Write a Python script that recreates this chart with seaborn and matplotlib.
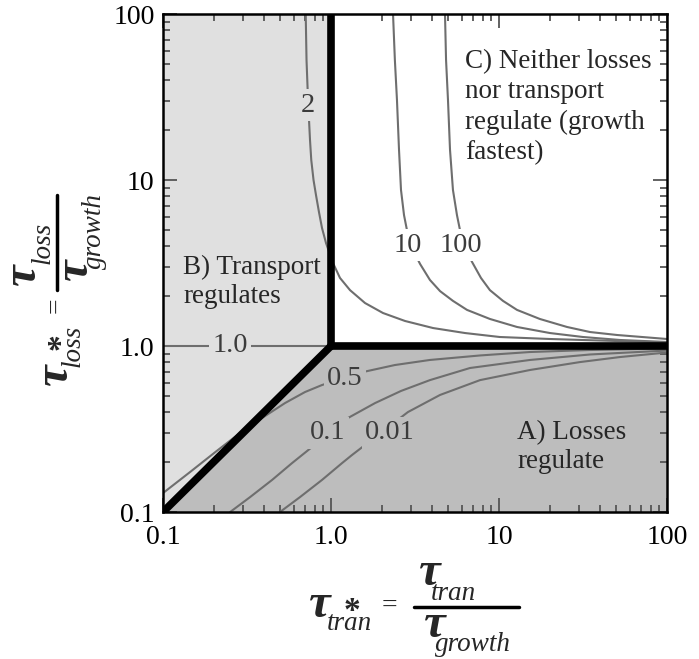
import matplotlib
matplotlib.use('Agg')
import matplotlib.pyplot as plt
import pandas as pd
import seaborn as sns

# axis ticks
tick_values = [0.1, 1.0, 10, 100]
tick_labels = ['0.1', '1.0', '10', '100']

# regime boundaries (thick black lines)
diag_x = [0.1, 1.0]
diag_y = [0.1, 1.0]
vert_x = [1.0, 1.0]
vert_y = [1.0, 100]
horiz_x = [1.0, 100]
horiz_y = [1.0, 1.0]

# contour curves
curve_2_x = [0.707, 0.715, 0.730, 0.750, 0.763, 0.787, 0.814, 0.848, 0.884, 0.934,
             1.028, 1.131, 1.298, 1.594, 2.04, 2.757, 4.05, 6.28, 10.1, 20.1, 39.9, 100]
curve_2_y = [100, 52.8, 30.3, 17.4, 13.2, 10, 8.12, 6.41, 5.14, 4.17,
             3.16, 2.57, 2.17, 1.815, 1.58, 1.415, 1.283, 1.197, 1.133, 1.102, 1.079, 1.05]

curve_10_x = [2.34, 2.40, 2.47, 2.54, 2.61, 2.72, 2.87, 3.12, 3.39, 3.88,
              4.46, 5.32, 6.45, 8.83, 12.8, 20.1, 31.6, 52.5, 100]
curve_10_y = [100, 52.8, 30.3, 15.2, 8.71, 6.15, 4.66, 3.68, 3.12, 2.50,
              2.14, 1.87, 1.65, 1.455, 1.302, 1.197, 1.133, 1.087, 1.057]

curve_100_x = [4.77, 4.84, 4.97, 5.11, 5.32, 5.62, 5.94, 6.45, 6.91, 7.81,
               8.83, 10.56, 12.8, 17.5, 25.4, 34.8, 50.4, 100]
curve_100_y = [100, 52.8, 30.3, 15.2, 8.71, 6.15, 4.66, 3.68, 3.21, 2.57,
               2.17, 1.87, 1.65, 1.455, 1.302, 1.214, 1.165, 1.102]

curve_1_x = [0.1, 1.0]
curve_1_y = [1.0, 1.0]

curve_05_x = [0.1, 0.1448, 0.212, 0.287, 0.388, 0.532, 0.700, 0.884, 1.55,
              2.40, 3.88, 7.71, 15.3, 34.8, 100]
curve_05_y = [0.130, 0.174, 0.236, 0.299, 0.368, 0.453, 0.528, 0.582, 0.697,
              0.768, 0.824, 0.877, 0.920, 0.946, 0.966]

curve_01_x = [0.251, 0.330, 0.446, 0.586, 0.77, 1.26, 1.828, 2.61, 3.88,
              6.72, 15.3, 34.8, 100]
curve_01_y = [0.1, 0.123, 0.156, 0.197, 0.246, 0.368, 0.453, 0.536, 0.623,
              0.737, 0.824, 0.889, 0.939]

curve_001_x = [0.497, 0.654, 0.884, 1.163, 1.334, 2.87, 4.455, 7.71, 15.3,
               30.3, 52.5, 100]
curve_001_y = [0.1, 0.123, 0.156, 0.197, 0.2205, 0.40, 0.507, 0.623, 0.717,
               0.80, 0.858, 0.914]

curves = {
    '2': (curve_2_x, curve_2_y),
    '10': (curve_10_x, curve_10_y),
    '100': (curve_100_x, curve_100_y),
    '1.0': (curve_1_x, curve_1_y),
    '0.5': (curve_05_x, curve_05_y),
    '0.1': (curve_01_x, curve_01_y),
    '0.01': (curve_001_x, curve_001_y),
}

B_COL = '#e0e0e0'
A_COL = '#bdbdbd'
LINE_COL = '#6e6e6e'
LBL_COL = '#3c3c3c'

sns.set_theme(style='ticks')
plt.rcParams['font.family'] = ['Liberation Serif', 'DejaVu Serif']

fig = plt.figure(figsize=(6.99, 6.59), dpi=100)
ax = fig.add_axes([163 / 699, 1 - 512 / 659, 504 / 699, 498 / 659])
ax.set_xscale('log')
ax.set_yscale('log')
ax.set_xlim(0.1, 100)
ax.set_ylim(0.1, 100)

# shaded regimes
lower_x = diag_x + horiz_x[1:]
lower_y = diag_y + horiz_y[1:]
ax.fill_between(lower_x, 0.1, lower_y, color=A_COL, lw=0, zorder=0)
ax.fill_between(diag_x, diag_y, 100, color=B_COL, lw=0, zorder=0)

# contour lines
df = pd.concat([pd.DataFrame({'x': xs, 'y': ys, 'curve': name})
                for name, (xs, ys) in curves.items()], ignore_index=True)
sns.lineplot(data=df, x='x', y='y', units='curve', estimator=None, sort=False,
             color=LINE_COL, lw=1.5, ax=ax, zorder=2, legend=False)

# regime boundaries
for bx, by in [(diag_x, diag_y), (vert_x, vert_y), (horiz_x, horiz_y)]:
    ax.plot(bx, by, color='black', lw=5.5, solid_capstyle='round', zorder=3)

# contour labels
label_pos = {
    '2': (0.73, 28.3, B_COL),
    '10': (2.87, 4.05, 'white'),
    '100': (5.94, 4.05, 'white'),
    '1.0': (0.25, 1.0, B_COL),
    '0.5': (1.21, 0.64, A_COL),
    '0.1': (0.96, 0.30, A_COL),
    '0.01': (2.24, 0.30, A_COL),
}
for name, (lx, ly, bg) in label_pos.items():
    ax.text(lx, ly, name, ha='center', va='center', fontsize=20.5, color=LBL_COL,
            zorder=4, bbox=dict(boxstyle='square,pad=0.12', fc=bg, ec='none'))

# regime annotations
ax.text(6.28, 61.5, 'C) Neither losses\nnor transport\nregulate (growth\nfastest)',
        ha='left', va='top', fontsize=19.5, linespacing=1.27, zorder=4)
ax.text(0.1315, 3.53, 'B) Transport\nregulates', ha='left', va='top',
        fontsize=19.5, linespacing=1.2, zorder=4)
ax.text(12.8, 0.358, 'A) Losses\nregulate', ha='left', va='top',
        fontsize=19.5, linespacing=1.2, zorder=4)

# axes styling
ax.set_xticks(tick_values)
ax.set_xticklabels(tick_labels)
ax.set_yticks(tick_values)
ax.set_yticklabels(tick_labels)
ax.tick_params(which='both', direction='in', top=True, right=True,
               color='#555555', labelsize=20, labelcolor='black')
ax.tick_params(which='major', length=10, width=1.3)
ax.tick_params(which='minor', length=5, width=1.3)
ax.tick_params(axis='x', which='major', pad=9.5)
ax.tick_params(axis='y', which='major', pad=6)
for s in ax.spines.values():
    s.set_linewidth(1.8)
    s.set_color('black')
    s.set_zorder(5)
ax.set_xlabel('')
ax.set_ylabel('')

tau = dict(fontsize=35, fontweight='bold', fontstyle='italic')
sub = dict(fontsize=19.5, fontstyle='italic')


def axis_label(ox, oy, rotated, bar, num_sub):
    # place the pieces of tau*_v = tau_v / tau_growth relative to an origin,
    # offsets (du, dv) in the text frame (u along the text, v up)
    def pos(du, dv):
        if rotated:
            return (ox - dv) / 699, 1 - (oy - du) / 659
        return (ox + du) / 699, 1 - (oy - dv) / 659

    kw = dict(rotation=90, rotation_mode='anchor') if rotated else {}
    name = 'loss' if rotated else 'tran'
    fig.text(*pos(0, 0), '\u03c4', ha='left', va='baseline', **tau, **kw)
    fig.text(*pos(35, 21), '*', ha='left', va='top', fontsize=24,
             fontweight='bold', **kw)
    fig.text(*pos(18, -13), name, ha='left', va='baseline', **sub, **kw)
    fig.text(*pos(80, 11), '=', ha='center', va='center', fontsize=20, **kw)
    p0, p1 = pos(bar[0], 10), pos(bar[1], 10)
    fig.add_artist(plt.Line2D([p0[0], p1[0]], [p0[1], p1[1]],
                              color='black', lw=2.5))
    fig.text(*pos(bar[0] + 5, 32), '\u03c4', ha='left', va='baseline', **tau, **kw)
    fig.text(*pos(bar[0] + num_sub, 17), name, ha='left', va='baseline', **sub, **kw)
    fig.text(*pos(bar[0] + 10, -20), '\u03c4', ha='left', va='baseline', **tau, **kw)
    fig.text(*pos(bar[0] + 21, -34), 'growth', ha='left', va='baseline', **sub, **kw)


axis_label(309, 617, False, (105, 210), 17)
axis_label(67, 385, True, (95, 190), 26)

fig.savefig('out.png', dpi=100, facecolor='white')
